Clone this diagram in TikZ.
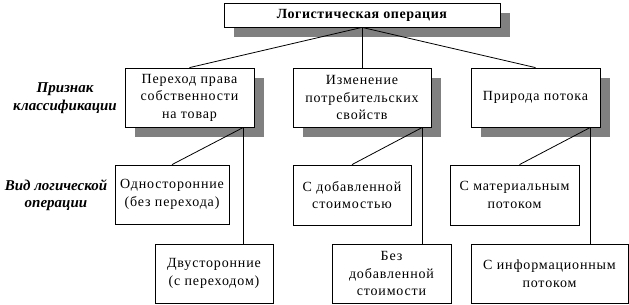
\documentclass[tikz,border=0pt]{standalone}
\usepackage{fontspec}
\setmainfont{Liberation Serif}
\newfontfamily\boxfont[LetterSpace=6]{Liberation Serif}
\newfontfamily\titlefont[LetterSpace=4]{Liberation Serif}
\usetikzlibrary{calc,shadows}
\definecolor{shadowgray}{HTML}{808080}
\begin{document}
\begin{tikzpicture}[x=1pt,y=-1pt,
  box/.style={draw, line width=0.8pt, fill=white, inner sep=0pt, align=center,
    font=\boxfont\fontsize{14}{17.5}\selectfont},
  shadowed/.style={drop shadow={shadow xshift=10pt, shadow yshift=-10pt, fill=shadowgray, opacity=1}},
  label/.style={align=center, inner sep=0pt, font=\bfseries\itshape\fontsize{15}{17.5}\selectfont},
  link/.style={line width=0.8pt}]
\useasboundingbox (0,0) rectangle (629,305);
% top
\node[box, shadowed, minimum width=276pt, minimum height=24pt,
  font=\titlefont\bfseries\fontsize{14}{17}\selectfont] (top) at (362,15) {Логистическая операция};
% level 2
\node[box, shadowed, minimum width=129pt, minimum height=59pt] (b1) at (189.5,97.5) {Переход права\\собственности\\на товар};
\node[box, shadowed, minimum width=138pt, minimum height=59pt] (b2) at (362,97.5) {Изменение\\потребительских\\свойств};
\node[box, shadowed, minimum width=129pt, minimum height=59pt] (b3) at (535.5,97.5) {Природа потока};
% level 3
\node[box, minimum width=114pt, minimum height=59pt] (c11) at (172,194.5) {Односторонние\\(без перехода)};
\node[box, minimum width=118pt, minimum height=59pt] (c12) at (214,273.5) {Двусторонние\\(с переходом)};
\node[box, minimum width=118pt, minimum height=60pt] (c21) at (352,195) {С добавленной\\стоимостью};
\node[box, minimum width=119pt, minimum height=59pt] (c22) at (391.5,273.5) {Без\\добавленной\\стоимости};
\node[box, minimum width=129pt, minimum height=60pt] (c31) at (514.5,195) {С материальным\\потоком};
\node[box, minimum width=157pt, minimum height=59pt] (c32) at (549.5,273.5) {С информационным\\потоком};
% labels
\node[label] (l1) at (65,98) {Признак\\классификации};
\node[label] (l2) at (56,195) {Вид логической\\операции};
% connectors
\draw[link] (top.south) -- (b1.north);
\draw[link] (top.south) -- (b2.north);
\draw[link] (top.south) -- (b3.north);
\coordinate (j1) at ($(b1.south east)+(-11,0)$);
\coordinate (j2) at ($(b2.south east)+(-9,0)$);
\coordinate (j3) at ($(b3.south east)+(-10,0)$);
\draw[link] (j1) -- (c11.north);
\draw[link] (j1) -- (j1 |- c12.north);
\draw[link] (j2) -- (c21.north);
\draw[link] (j2) -- (j2 |- c22.north);
\draw[link] (j3) -- ($(c31.north)+(5,0)$);
\draw[link] (j3) -- (j3 |- c32.north);
\end{tikzpicture}
\end{document}
